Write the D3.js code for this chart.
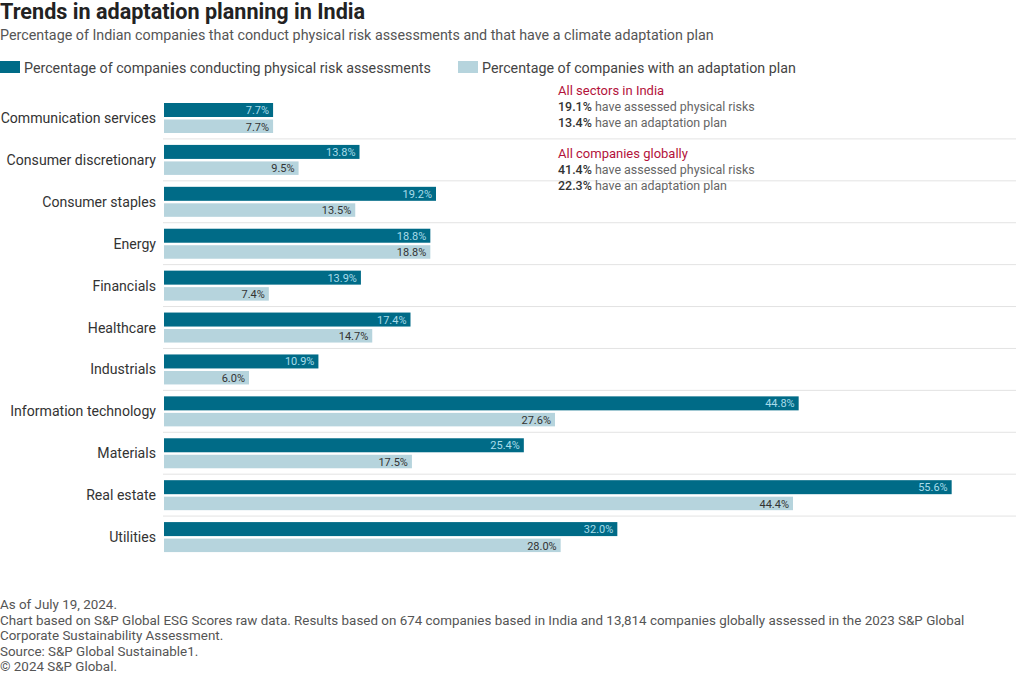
<!DOCTYPE html>
<html><head><meta charset="utf-8">
<script src="https://cdn.jsdelivr.net/npm/d3@7"></script>
<style>body{margin:0;background:#fff;}svg{display:block;font-family:Roboto,"Noto Sans",sans-serif;}</style>
</head><body><svg id="c" width="1020" height="676"></svg>
<script>
const categories = ["Communication services","Consumer discretionary","Consumer staples","Energy","Financials","Healthcare","Industrials","Information technology","Materials","Real estate","Utilities"];
const riskAssessed = [7.7,13.8,19.2,18.8,13.9,17.4,10.9,44.8,25.4,55.6,32.0];
const adaptationPlan = [7.7,9.5,13.5,18.8,7.4,14.7,6.0,27.6,17.5,44.4,28.0];
const seriesNames = ["Percentage of companies conducting physical risk assessments","Percentage of companies with an adaptation plan"];
const notes = [
  {head:"All sectors in India", lines:[["19.1%"," have assessed physical risks"],["13.4%"," have an adaptation plan"]]},
  {head:"All companies globally", lines:[["41.4%"," have assessed physical risks"],["22.3%"," have an adaptation plan"]]}
];
const footer = ["As of July 19, 2024.","Chart based on S&P Global ESG Scores raw data. Results based on 674 companies based in India and 13,814 companies globally assessed in the 2023 S&P Global","Corporate Sustainability Assessment.","Source: S&P Global Sustainable1.","© 2024 S&P Global."];

const dark="#006b87", light="#b6d4dd";
const svg=d3.select("#c");
svg.append("text").attr("x",0).attr("y",19).attr("font-size",21.6).attr("font-weight",700).attr("fill","#222").text("Trends in adaptation planning in India");
svg.append("text").attr("x",0).attr("y",40).attr("font-size",14.3).attr("fill","#555").text("Percentage of Indian companies that conduct physical risk assessments and that have a climate adaptation plan");

// legend
const lg=[{x:0,c:dark},{x:458,c:light}];
lg.forEach((l,i)=>{
  svg.append("rect").attr("x",l.x).attr("y",61).attr("width",20).attr("height",12).attr("fill",l.c);
  svg.append("text").attr("x",l.x+24).attr("y",72.5).attr("font-size",14.25).attr("fill","#444").text(seriesNames[i]);
});

const x=d3.scaleLinear().domain([0,60]).range([164,1014]);
const y=d3.scaleBand().domain(categories).range([97,558]).paddingInner(0).paddingOuter(0);
const g=svg.append("g");
// separators
categories.slice(1).forEach(c=>{
  g.append("line").attr("x1",163).attr("x2",1016).attr("y1",y(c)).attr("y2",y(c)).attr("stroke","#e3e3e3").attr("stroke-width",1);
});
categories.forEach((c,i)=>{
  const y0=y(c);
  g.append("rect").attr("x",x(0)).attr("y",y0+6).attr("width",x(riskAssessed[i])-x(0)).attr("height",14).attr("fill",dark);
  g.append("rect").attr("x",x(0)).attr("y",y0+22.5).attr("width",x(adaptationPlan[i])-x(0)).attr("height",13.5).attr("fill",light);
  g.append("text").attr("x",x(riskAssessed[i])-4).attr("y",y0+17).attr("text-anchor","end").attr("font-size",11).attr("fill","#a8dcea").text(riskAssessed[i].toFixed(1)+"%");
  g.append("text").attr("x",x(adaptationPlan[i])-4).attr("y",y0+33.5).attr("text-anchor","end").attr("font-size",11).attr("fill","#333").text(adaptationPlan[i].toFixed(1)+"%");
  g.append("text").attr("x",156).attr("y",y0+y.bandwidth()/2+5).attr("text-anchor","end").attr("font-size",14.1).attr("fill","#333").text(c);
});

// annotations
notes.forEach((n,k)=>{
  const by=95+k*63;
  svg.append("text").attr("x",558).attr("y",by).attr("font-size",13).attr("fill","#b3123b").text(n.head);
  n.lines.forEach((l,j)=>{
    const t=svg.append("text").attr("x",558).attr("y",by+16+j*15.5).attr("font-size",12.45).attr("fill","#666");
    t.append("tspan").attr("font-weight",500).attr("fill","#333").text(l[0]);
    t.append("tspan").text(l[1]);
  });
});

footer.forEach((f,i)=>{
  svg.append("text").attr("x",0).attr("y",609+i*15.5).attr("font-size",13.4).attr("fill","#555").text(f);
});
</script></body></html>
